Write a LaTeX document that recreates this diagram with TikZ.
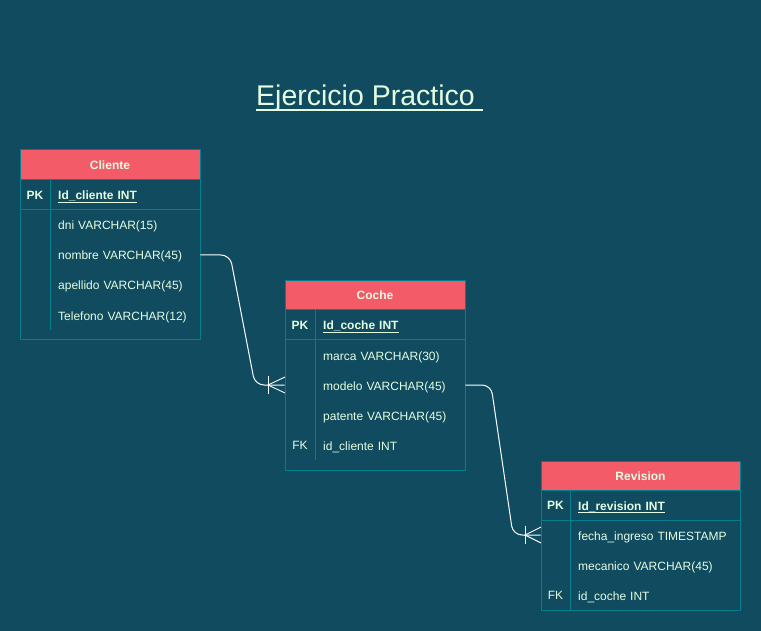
\documentclass[tikz,border=0pt]{standalone}
\usepackage{fontspec}
\setmainfont{Liberation Sans}
\definecolor{bgc}{HTML}{114B5F}
\definecolor{hdrc}{HTML}{F45B69}
\definecolor{strk}{HTML}{028090}
\definecolor{txtc}{HTML}{E4FDE1}
\newsavebox{\myulbox}
% \myul{thickness}{depth}{text}
\newcommand{\myul}[3]{\sbox{\myulbox}{#3}\rlap{\raisebox{-#2}{\rule{\wd\myulbox}{#1}}}\usebox{\myulbox}}
\tikzset{
  tblbox/.style={draw=strk, line width=1pt, minimum width=#1, inner sep=0pt},
  hdr/.style={fill=hdrc, draw=strk, line width=1pt, text=txtc, font=\fontsize{12}{14}\selectfont\bfseries, inner sep=0pt, text height=10.5pt, text depth=1.5pt},
  sepline/.style={draw=strk, line width=1pt},
  keylbl/.style={text=txtc, font=\fontsize{12}{14}\selectfont\bfseries, inner sep=0pt, text height=10.5pt, text depth=1.5pt},
  rowbox/.style={anchor=west, text=txtc, font=\fontsize{12}{14}\selectfont, minimum height=30pt, inner xsep=8pt, inner ysep=0pt, align=left, text width=#1, text height=11pt, text depth=1pt},
  conn/.style={draw=white, line width=1pt, rounded corners=9pt},
  crow/.style={draw=white, line width=0.9pt},
  titlestyle/.style={text=txtc, font=\fontsize{28.5}{34}\selectfont, inner sep=0pt}
}
\newcommand{\pkul}[1]{\myul{1pt}{2.8pt}{#1}}
\begin{document}
\begin{tikzpicture}[x=1pt,y=-1pt]
\fill[bgc] (0,0) rectangle (761,631);
\useasboundingbox (0,0) rectangle (761,631);

% Title
\node[titlestyle, anchor=base west] (title) at (256,105.5) {\myul{2pt}{5.3pt}{Ejercicio Practico\ }};

% ---------- Cliente ----------
\node[tblbox=180pt, minimum height=190pt] (cli) at (110,245) {};
\node[hdr, minimum width=180pt, minimum height=30pt] (cliH) at (110,165) {Cliente};
\draw[sepline] (20,210) -- (200,210);
\draw[sepline] (50,180) -- (50,330);
\node[keylbl] (cliPK) at (35,195) {PK};
\node[rowbox=134pt] (cli0) at (50,195) {\textbf{\pkul{Id\_cliente INT}}};
\node[rowbox=134pt] (cli1) at (50,225) {dni VARCHAR(15)};
\node[rowbox=134pt] (cli2) at (50,255) {nombre VARCHAR(45)};
\node[rowbox=134pt] (cli3) at (50,285) {apellido VARCHAR(45)};
\node[rowbox=134pt] (cli4) at (50,315) {Telefono VARCHAR(12)};

% ---------- Coche ----------
\node[tblbox=180pt, minimum height=189pt] (co) at (375,375.5) {};
\node[hdr, minimum width=180pt, minimum height=29pt] (coH) at (375,295.5) {Coche};
\draw[sepline] (285,340) -- (465,340);
\draw[sepline] (315,310) -- (315,460);
\node[keylbl] (coPK) at (300,325) {PK};
\node[keylbl, font=\fontsize{12}{14}\selectfont] (coFK) at (300,445) {FK};
\node[rowbox=134pt] (co0) at (315,325) {\textbf{\pkul{Id\_coche INT}}};
\node[rowbox=134pt] (co1) at (315,355) {marca VARCHAR(30)};
\node[rowbox=134pt] (co2) at (315,385) {modelo VARCHAR(45)};
\node[rowbox=134pt] (co3) at (315,415) {patente VARCHAR(45)};
\node[rowbox=134pt] (co4) at (315,445) {id\_cliente INT};

% ---------- Revision ----------
\node[tblbox=199pt, minimum height=149pt] (rev) at (640.5,535.5) {};
\node[hdr, minimum width=199pt, minimum height=29pt] (revH) at (640.5,475.5) {Revision};
\draw[sepline] (541,520) -- (740,520);
\draw[sepline] (570,490) -- (570,610);
\node[keylbl] (revPK) at (555.5,505) {PK};
\node[keylbl, font=\fontsize{12}{14}\selectfont] (revFK) at (555.5,595) {FK};
\node[rowbox=154pt] (rev0) at (570,505) {\textbf{\pkul{Id\_revision INT}}};
\node[rowbox=154pt] (rev1) at (570,535) {fecha\_ingreso TIMESTAMP};
\node[rowbox=154pt] (rev2) at (570,565) {mecanico VARCHAR(45)};
\node[rowbox=154pt] (rev3) at (570,595) {id\_coche INT};

% ---------- Connectors ----------
\coordinate (b1) at (230,255);
\coordinate (b2) at (255,385);
\draw[conn] (cli2.east) -- (b1) -- (b2) -- (co.west |- co2.west);
% crow's foot (one-or-many) at Coche
\draw[crow] (268,376) -- (268,394);
\draw[crow] (285,377) -- (268,385) -- (285,393);

\coordinate (b3) at (491,385);
\coordinate (b4) at (513,535);
\draw[conn] (co2.east) -- (b3) -- (b4) -- (rev.west |- rev1.west);
% crow's foot at Revision
\draw[crow] (525,526) -- (525,544);
\draw[crow] (541,527) -- (525,535) -- (541,543);
\end{tikzpicture}
\end{document}
